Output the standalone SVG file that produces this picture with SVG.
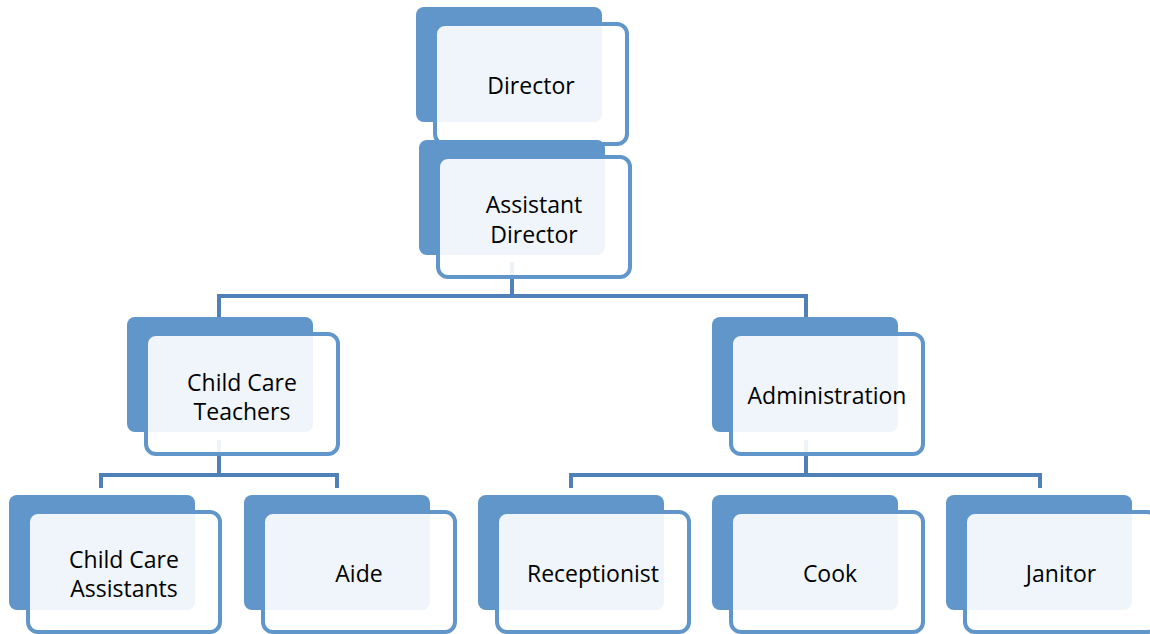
<svg xmlns="http://www.w3.org/2000/svg" width="1150" height="634" viewBox="0 0 1150 634">
<style>
.back{fill:#6096c9}
.front{fill:#ffffff;fill-opacity:0.9;stroke:#6096c9;stroke-width:4}
.conn{fill:none;stroke:#4f80b8;stroke-width:4}
text{font-family:"Open Sans","Liberation Sans",sans-serif;font-size:23px;fill:#000;text-anchor:middle}
</style>
<rect width="1150" height="634" fill="#ffffff"/>
<g id="connectors">
<path class="conn" d="M512,262 V296 M219,318 V296 H806 V318"/>
<path class="conn" d="M219,440 V475 M101,488 V475 H337 V488"/>
<path class="conn" d="M806,440 V475 M571,488 V475 H1040 V488"/>
</g>
<g id="director">
<rect class="back" x="416" y="7" width="186" height="115" rx="8"/>
<rect class="front" x="435" y="24" width="192" height="120" rx="10"/>
<text x="531" y="94">Director</text>
</g>
<g id="assistant-director">
<rect class="back" x="419" y="140" width="186" height="115" rx="8"/>
<rect class="front" x="438" y="157" width="192" height="120" rx="10"/>
<text x="534" y="213">Assistant</text>
<text x="534" y="243">Director</text>
</g>
<g id="child-care-teachers">
<rect class="back" x="127" y="317" width="186" height="115" rx="8"/>
<rect class="front" x="146" y="334" width="192" height="120" rx="10"/>
<text x="242" y="391">Child Care</text>
<text x="242" y="420">Teachers</text>
</g>
<g id="administration">
<rect class="back" x="712" y="317" width="186" height="115" rx="8"/>
<rect class="front" x="731" y="334" width="192" height="120" rx="10"/>
<text x="827" y="404">Administration</text>
</g>
<g id="child-care-assistants">
<rect class="back" x="9" y="495" width="186" height="115" rx="8"/>
<rect class="front" x="28" y="512" width="192" height="120" rx="10"/>
<text x="124" y="568">Child Care</text>
<text x="124" y="597">Assistants</text>
</g>
<g id="aide">
<rect class="back" x="244" y="495" width="186" height="115" rx="8"/>
<rect class="front" x="263" y="512" width="192" height="120" rx="10"/>
<text x="359" y="582">Aide</text>
</g>
<g id="receptionist">
<rect class="back" x="478" y="495" width="186" height="115" rx="8"/>
<rect class="front" x="497" y="512" width="192" height="120" rx="10"/>
<text x="593" y="582">Receptionist</text>
</g>
<g id="cook">
<rect class="back" x="712" y="495" width="186" height="115" rx="8"/>
<rect class="front" x="731" y="512" width="192" height="120" rx="10"/>
<text x="830" y="582">Cook</text>
</g>
<g id="janitor">
<rect class="back" x="946" y="495" width="186" height="115" rx="8"/>
<rect class="front" x="965" y="512" width="192" height="120" rx="10"/>
<text x="1061" y="582">Janitor</text>
</g>
</svg>
